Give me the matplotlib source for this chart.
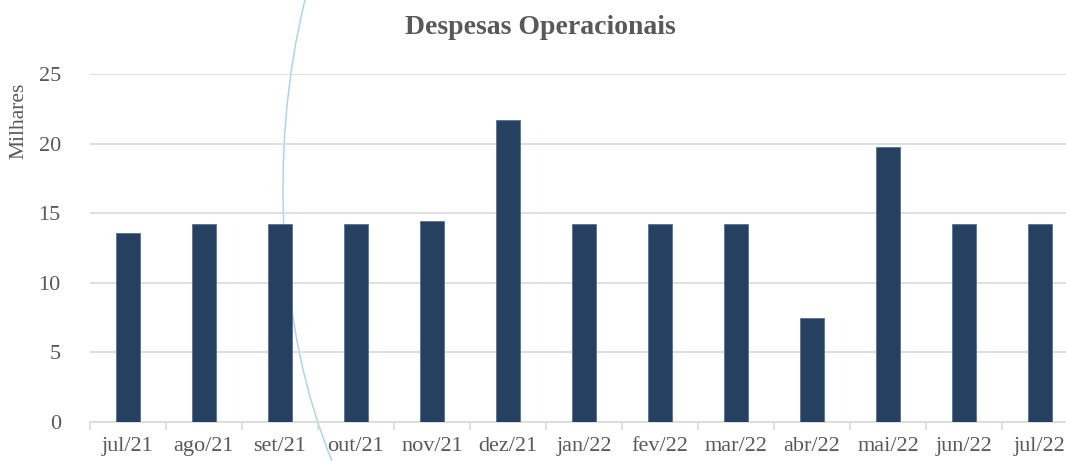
import numpy as np
import matplotlib
matplotlib.use("Agg")
from matplotlib import pyplot as plt
from matplotlib.path import Path
from matplotlib.patches import PathPatch

months = ["jul/21", "ago/21", "set/21", "out/21", "nov/21", "dez/21", "jan/22",
          "fev/22", "mar/22", "abr/22", "mai/22", "jun/22", "jul/22"]
despesas = [13.55, 14.2, 14.2, 14.2, 14.43, 21.68, 14.2, 14.2, 14.2, 7.45, 19.76, 14.2, 14.2]
yticks = [0, 5, 10, 15, 20, 25]

W, H = 1066, 461
plt.rcParams['font.family'] = ['Liberation Serif', 'DejaVu Serif']
fig = plt.figure(figsize=(W / 100, H / 100), dpi=100)
# plot area runs past the right edge, as in the cropped original
ax = fig.add_axes([90 / W, 1 - 422 / H, 988 / W, 348 / H])
ax.set_zorder(1)
ax.patch.set_alpha(0)

x = np.arange(len(months))
ax.bar(x, despesas, width=0.31, color='#264061', edgecolor='#5b7090', linewidth=0.6, zorder=3)
ax.set_xlim(-0.5, len(months) - 0.5)
ax.set_ylim(0, 25)
ax.set_yticks(yticks)
ax.yaxis.grid(True, color='#d9d9d9', linewidth=1.2, zorder=0)
for s in ['top', 'right', 'left']:
    ax.spines[s].set_visible(False)
ax.spines['bottom'].set_color('#d9d9d9')
ax.spines['bottom'].set_linewidth(1.2)

ax.set_xticks(x)
ax.set_xticklabels(months)
ax.set_xticks(np.arange(len(months) + 1) - 0.5, minor=True)
ax.tick_params(axis='x', which='major', length=0, pad=11, labelsize=16, labelcolor='#595959')
ax.tick_params(axis='x', which='minor', length=6, width=1.2, color='#d9d9d9', direction='out')
ax.tick_params(axis='y', length=0, pad=21, labelsize=16, labelcolor='#595959')

fig.text(19 / W, 1 - 121 / H, "Milhares", rotation=90, ha='center', va='center',
         fontsize=15.5, color='#595959')
fig.text(540 / W, 1 - 28 / H, "Despesas Operacionais", ha='center', va='center',
         fontsize=20, fontweight='bold', color='#595959')

# faint decorative curve from the page behind the chart
pts = [(305, 0), (268, 150), (278, 330), (332, 461)]
verts = [(px / W, 1 - py / H) for px, py in pts]
curve = PathPatch(Path(verts, [Path.MOVETO, Path.CURVE4, Path.CURVE4, Path.CURVE4]),
                  fill=False, edgecolor='#acd6e6', linewidth=1.1,
                  transform=fig.transFigure, zorder=0.5)
fig.add_artist(curve)

fig.savefig('out.png', dpi=100)
